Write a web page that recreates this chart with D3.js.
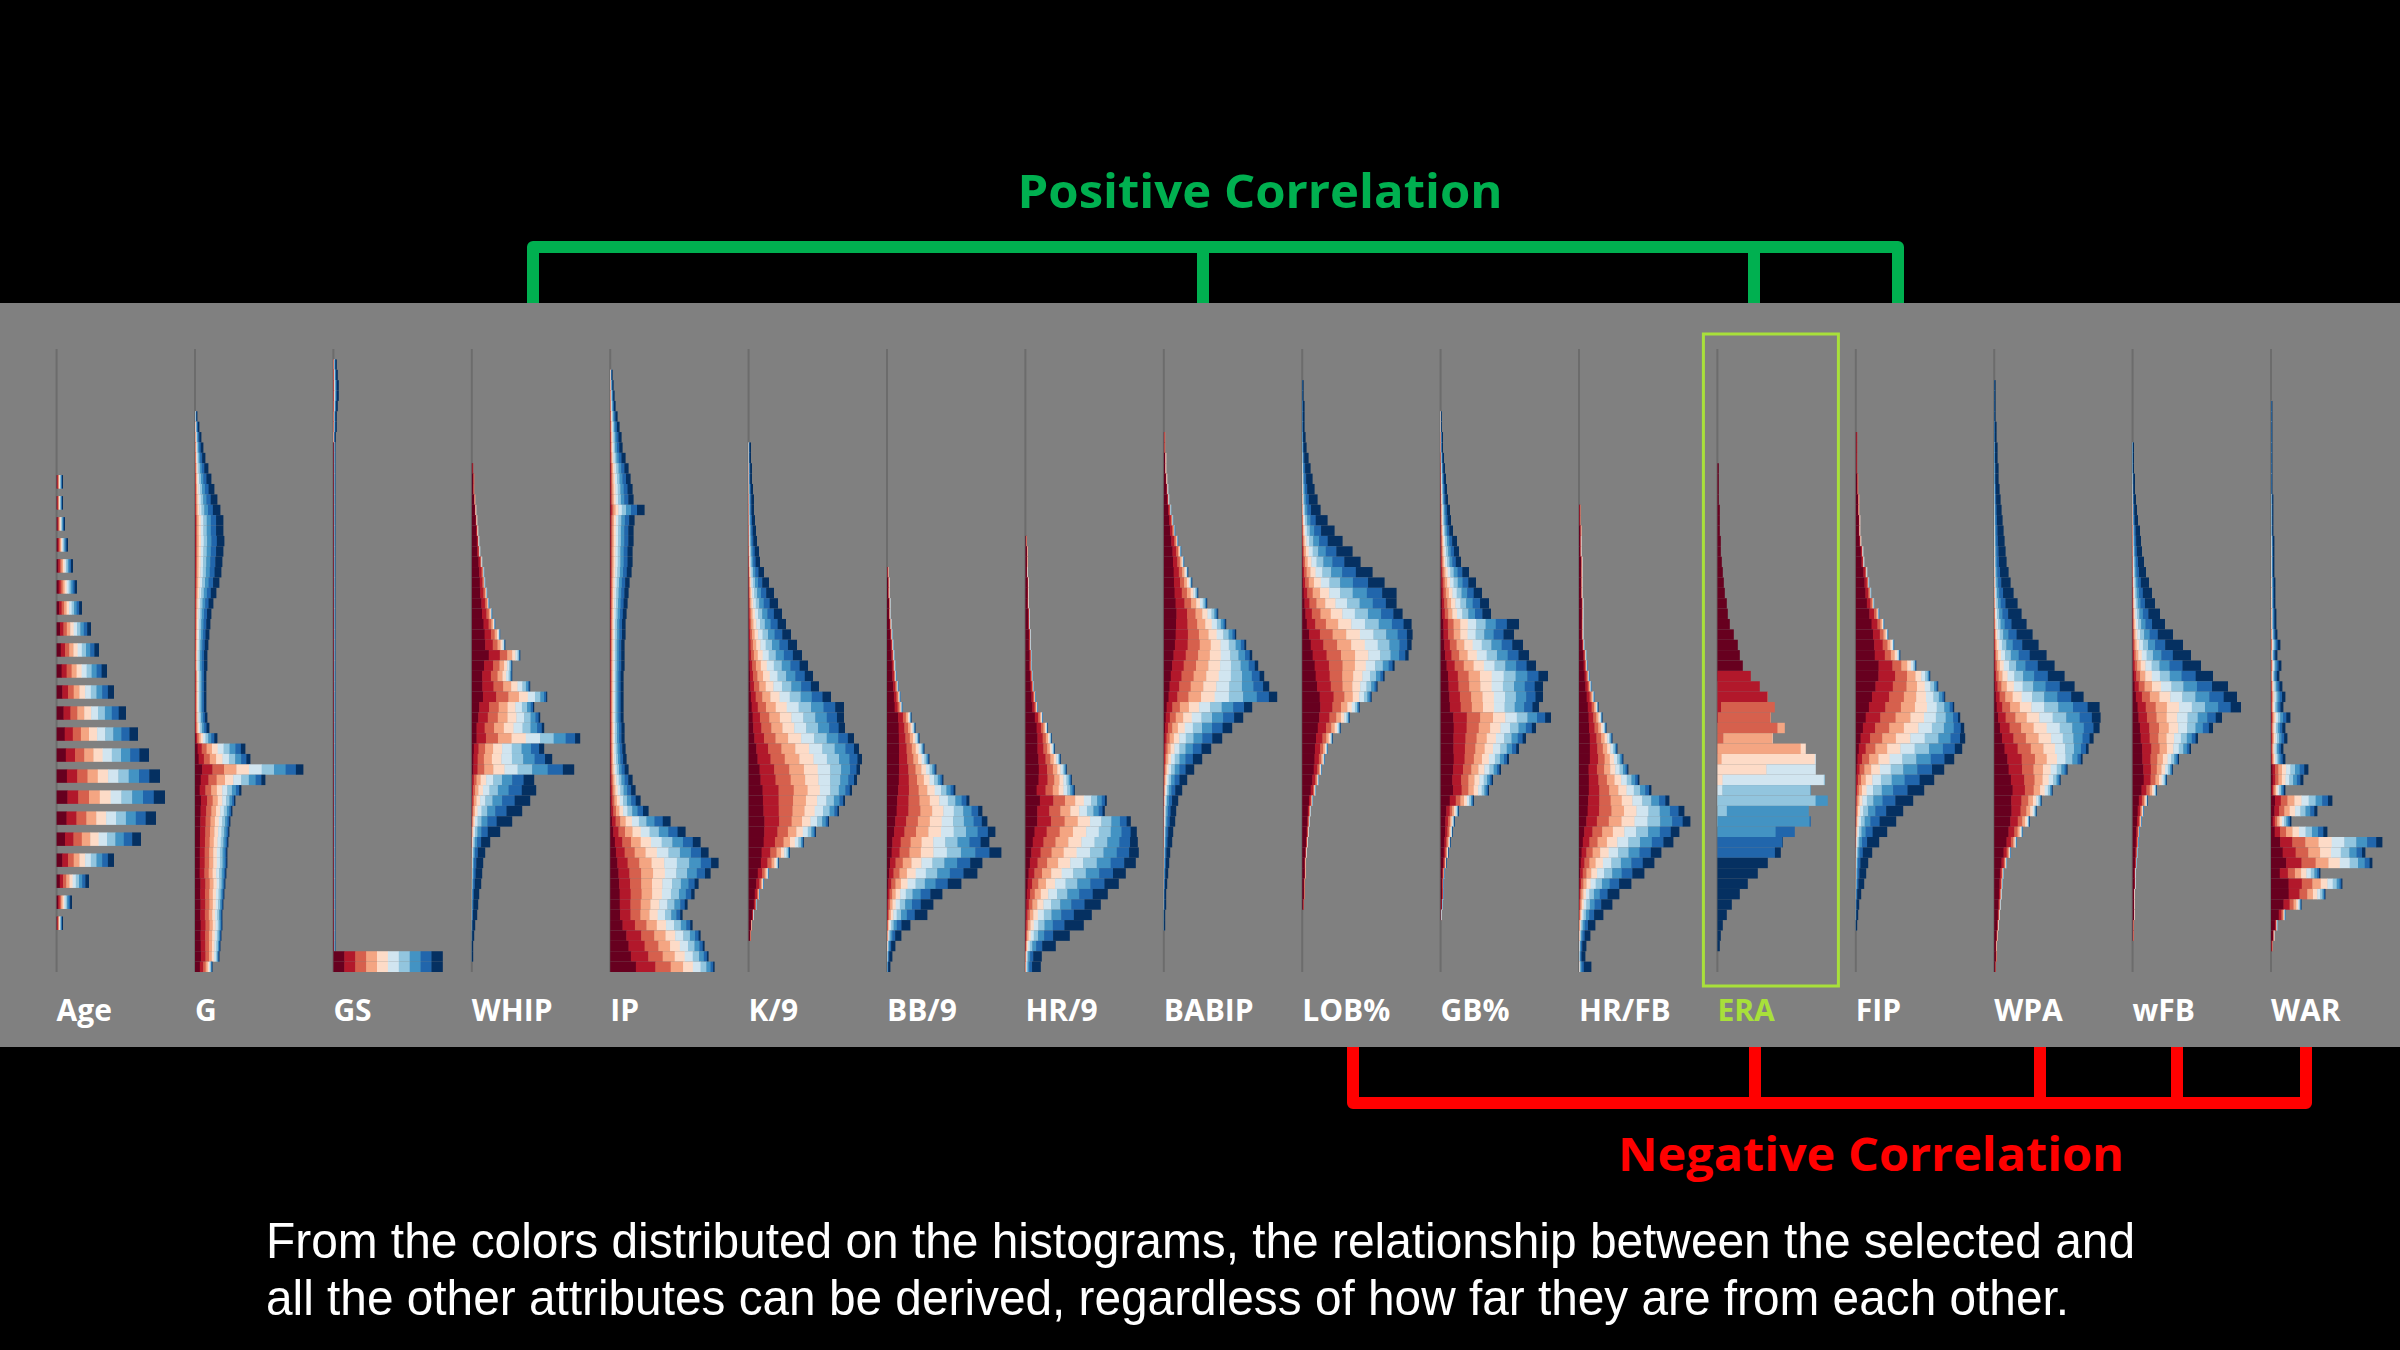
<!DOCTYPE html>
<html lang="en">
<head>
<meta charset="UTF-8">
<title>Attribute histograms coloured by ERA</title>
<script src="https://d3js.org/d3.v7.min.js"></script>
<style>
  html, body { margin: 0; padding: 0; background: #000; }
  svg { display: block; }
</style>
</head>
<body>
<svg width="2400" height="1350"></svg>
<script>
// attributes, left to right; ERA is the selected one
const attributes = ["Age", "G", "GS", "WHIP", "IP", "K/9", "BB/9", "HR/9", "BABIP",
                    "LOB%", "GB%", "HR/FB", "ERA", "FIP", "WPA", "wFB", "WAR"];
const selected = "ERA";

// first non-empty bin of each histogram (60 bins top to bottom, Age uses 30)
const firstBin = [6, 6, 1, 11, 2, 9, 21, 18, 8, 3, 6, 15, 11, 8, 3, 9, 5];

// how tightly each bin's ERA deciles cluster (latent normal sd, 1 = no relation)
const spread = [1, 0.85, 1, 0.75, 0.85, 0.8, 0.85, 0.85, 0.8, 0.8, 0.9, 0.85, 0.06, 0.75, 0.8, 0.85, 0.85];

// bin counts per attribute
const ageCounts = [6,6,8,11,16,20,25,34,42,50,57,69,81,92,103,108,99,84,57,32,15,6];
const gCounts = [2,4,6,8,10,13,16,19,22,25,28,28,29,28,27,26,24,21,18,16,15,14,13,12,12,11,11,11,11,12,
                 14,22,50,55,108,70,46,40,37,35,34,33,32,32,31,30,29,28,27,27,26,25,24,17];
const gsCounts = [3,4,5,5,4,3,3,2,
                  1.5,1.5,1.5,1.5,1.5,1.5,1.5,1.5,1.5,1.5,
                  1.5,1.5,1.5,1.5,1.5,1.5,1.5,1.5,1.5,1.5,
                  1.5,1.5,1.5,1.5,1.5,1.5,1.5,1.5,1.5,1.5,
                  1.5,1.5,1.5,1.5,1.5,1.5,1.5,1.5,1.5,1.5,
                  1.5,1.5,1.5,1.5,1.5,1.5,1.5,1.5,1.5,
                  109,109];
const whipCounts = [1,2,2,3,4,5,6,7,8,10,12,13,15,17,20,23,28,33,48,40,40,58,75,62,68,72,108,72,80,102,
                    62,64,58,50,40,28,18,13,11,10,9,7,6,5,3,2,1,1];
const ipCounts = [2,3,4,5,7,9,11,12,15,18,20,22,23,34,24,23,23,22,22,21,19,18,17,16,15,15,14,14,14,13,
                  13,13,13,13,14,14,15,16,18,22,25,30,38,60,75,90,98,108,100,88,84,77,72,82,90,94,98,104];
const k9Counts = [2,2,3,3,4,5,5,6,7,8,10,11,15,20,25,29,33,37,42,48,53,59,64,70,82,95,95,96,105,110,
                  113,111,108,103,96,90,80,67,55,41,30,20,15,11,8,5,3,2];
const bb9Counts = [1,2,2,3,3,4,5,6,7,8,9,11,13,15,24,28,32,37,42,49,56,68,82,95,100,108,102,114,95,90,
                   74,55,46,40,23,14,8,5,3];
const hr9Counts = [1,2,2,2,3,3,3,4,4,5,5,6,6,7,8,10,12,17,22,26,29,35,41,46,49,81,79,105,111,112,
                   113,110,100,93,82,75,66,58,44,30,16,15];
const babipCounts = [1,1,2,2,3,4,5,7,9,11,14,17,20,24,28,34,43,54,62,72,82,88,94,100,105,113,88,79,68,58,
                     47,38,30,23,18,14,12,11,9,8,6,5,4,3,2,2,1,1];
const lobCounts = [1,1,2,2,2,3,4,6,8,10,12,15,18,25,32,40,50,58,70,82,94,94,100,109,110,109,106,92,82,75,
                   69,57,47,38,30,25,22,19,16,13,10,8,7,6,5,4,3,3,2,2,1];
const gbCounts = [1,1,2,2,3,4,5,6,7,9,10,12,16,18,20,28,35,41,48,50,78,73,82,88,95,107,102,102,98,110,
                  95,85,78,68,60,52,48,33,18,14,12,10,8,6,4,3,3,2,1];
const hrfbCounts = [1,1,2,2,2,3,3,3,3,4,4,4,4,5,7,8,10,12,15,19,23,27,33,38,44,49,60,72,90,105,
                    111,100,94,82,75,65,52,40,33,24,16,11,7,6,12];
const eraCounts = [1,1,1,1,2,2,2,3,3,4,5,6,7,9,10,12,16,20,22,25,33,42,50,57,53,67,55,88,98,98,
                   107,93,110,91,93,77,65,63,50,40,30,22,14,9,5,3,2];
const fipCounts = [1,1,1,1,2,2,3,3,4,4,5,7,8,11,13,15,18,23,28,32,38,44,60,74,82,89,98,104,108,109,
                   106,98,88,78,68,57,47,40,31,23,16,12,10,8,5,3,2,1];
const wpaCounts = [1,1,1,1,2,2,3,3,4,4,5,6,7,8,9,10,11,12,14,16,19,23,27,32,38,44,52,60,70,80,
                   89,105,106,105,99,94,88,73,66,58,47,42,35,28,22,16,12,9,8,7,6,5,4,3,2,2,1];
const wfbCounts = [1,1,1,2,2,3,4,5,7,8,9,11,13,16,19,22,27,32,40,50,58,68,80,95,104,108,89,80,65,58,
                   46,40,34,24,15,11,9,7,6,5,4,3,3,2,2,2,1,1];
const warCounts = [1,1,1,1,1,1,1,1,1,2,2,2,2,3,3,3,3,4,4,4,5,5,6,9,6,10,8,11,14,12,
                   19,14,16,12,14,37,32,14,61,46,20,56,111,94,101,49,71,54,30,14,6,3,1];

// mean ERA position of each bin on a latent normal scale (negative = red end)
const ageMean = [0,0,0,0,0,0,0,0,0,0,0,0,0,0,0,0,0,0,0,0,0,0];
const gMean = [0.8,0.8,0.8,0.8,0.8,0.8,0.8,0.8,0.8,0.8,
               0.7,0.7,0.7,0.7,0.7,0.7,0.7,0.7,0.7,0.7,0.7,0.7,0.7,0.7,0.7,
               0.5,0.5,0.5,0.5,0.5,0.5,
               0.3,0.1,0,0,-0.1,-0.2,
               -0.4,-0.4,-0.4,-0.4,-0.4,-0.4,-0.4,-0.4,
               -0.5,-0.5,-0.55,-0.55,-0.6,-0.6,-0.65,-0.7,-0.8];
const gsMean = [0.8,0.8,0.8,0.8,0.8,0.8,0.8,0.8,
                -0.6,-0.6,-0.6,-0.6,-0.6,-0.6,-0.6,-0.6,-0.6,-0.6,
                -0.6,-0.6,-0.6,-0.6,-0.6,-0.6,-0.6,-0.6,-0.6,-0.6,
                -0.6,-0.6,-0.6,-0.6,-0.6,-0.6,-0.6,-0.6,-0.6,-0.6,
                -0.6,-0.6,-0.6,-0.6,-0.6,-0.6,-0.6,-0.6,-0.6,-0.6,
                -0.6,-0.6,-0.6,-0.6,-0.6,-0.6,-0.6,-0.6,-0.6,
                0,0];
const whipMean = [-2.0,-2.0,-1.9,-1.9,-1.8,-1.8,-1.7,-1.7,-1.6,-1.6,-1.5,-1.5,-1.4,-1.4,-1.3,-1.3,
                  -1.2,-1.1,-1.0,-0.9,-0.8,-0.6,-0.5,-0.4,-0.3,-0.15,0,0.15,0.25,0.35,
                  0.55,0.7,0.8,0.9,1.05,1.15,1.25,1.35,1.45,1.5,1.6,1.7,1.75,1.8,1.85,1.9,1.95,2.0];
const ipMean = [0.7,0.7,0.7,0.7,0.7,0.7,0.7,0.7,0.7,
                0.6,0.6,0.6,0.6,0.6,0.6,0.6,0.6,0.6,0.6,0.6,0.6,0.6,0.6,0.6,0.6,0.6,0.6,0.6,0.6,
                0.55,0.55,0.55,0.55,0.55,0.55,0.55,0.55,0.55,0.55,
                0.5,0.45,0.4,0.35,0.3,0.2,0.1,0.05,0,-0.1,
                -0.2,-0.25,-0.3,-0.35,-0.4,-0.5,-0.55,-0.6,-0.7];
const k9Mean = [1.3,1.3,1.25,1.25,1.2,1.2,1.15,1.15,1.1,1.1,1.05,1.0,
                0.95,0.9,0.85,0.8,0.7,0.65,0.6,0.55,0.5,0.4,0.35,0.3,0.25,0.2,
                0.1,0.05,0,-0.1,-0.15,-0.25,-0.3,-0.4,-0.45,-0.5,
                -0.6,-0.7,-0.8,-0.9,-1.1,-1.2,-1.3,-1.4,-1.6,-1.7,-1.85,-2.0];
const bb9Mean = [-1.7,-1.7,-1.65,-1.65,-1.6,-1.6,-1.55,-1.55,-1.5,-1.5,
                 -1.45,-1.4,-1.35,-1.3,-1.2,-1.1,-1.0,-0.9,-0.8,-0.7,
                 -0.6,-0.45,-0.3,-0.2,-0.1,0,0.1,0.2,0.3,0.4,0.5,0.6,0.75,0.85,1.0,1.1,1.25,1.4,1.5];
const hr9Mean = [-1.8,-1.8,-1.8,-1.75,-1.75,-1.75,-1.7,-1.7,-1.7,-1.7,-1.65,-1.65,-1.6,-1.6,-1.6,
                 -1.5,-1.45,-1.4,-1.3,-1.2,-1.1,-1.0,-0.9,-0.8,-0.65,-0.5,-0.4,-0.25,-0.1,
                 0,0.1,0.2,0.3,0.4,0.5,0.6,0.75,0.9,1.0,1.15,1.3,1.4];
const babipMean = [-1.7,-1.7,-1.65,-1.65,-1.6,-1.6,-1.55,-1.5,-1.45,-1.4,-1.35,-1.3,
                   -1.2,-1.1,-1.0,-0.9,-0.8,-0.7,-0.6,-0.5,-0.4,-0.3,-0.2,-0.1,0,0.1,
                   0.2,0.3,0.4,0.5,0.6,0.7,0.8,0.9,1.0,1.1,1.15,1.2,1.3,1.35,
                   1.4,1.45,1.5,1.55,1.6,1.65,1.7,1.75];
const lobMean = [1.8,1.8,1.75,1.75,1.7,1.7,1.65,1.6,1.55,1.5,1.45,1.4,
                 1.3,1.2,1.1,1.0,0.9,0.8,0.7,0.6,0.45,0.3,0.2,0.1,-0.05,-0.15,-0.25,
                 -0.4,-0.5,-0.6,-0.75,-0.9,-1.0,-1.1,-1.2,-1.3,-1.4,
                 -1.5,-1.55,-1.6,-1.65,-1.7,-1.75,-1.8,-1.85,-1.9,-1.9,-1.95,-1.95,-2.0,-2.0];
const gbMean = [1.0,1.0,0.95,0.95,0.9,0.9,0.9,0.85,0.85,0.8,0.8,0.75,0.75,0.7,
                0.65,0.6,0.55,0.5,0.45,0.4,0.35,0.3,0.25,0.2,0.1,0.05,0,-0.05,-0.1,-0.2,
                -0.3,-0.35,-0.4,-0.5,-0.55,-0.6,-0.7,-0.75,-0.85,-0.9,
                -1.0,-1.0,-1.05,-1.1,-1.1,-1.15,-1.2,-1.2,-1.25];
const hrfbMean = [-1.8,-1.8,-1.8,-1.75,-1.75,-1.75,-1.7,-1.7,-1.7,-1.65,-1.65,-1.6,-1.6,-1.55,-1.5,-1.45,
                  -1.4,-1.35,-1.3,-1.2,-1.1,-1.0,-0.9,-0.8,-0.7,-0.55,-0.45,-0.35,-0.2,-0.1,0,
                  0.1,0.2,0.3,0.4,0.5,0.65,0.8,0.9,1.0,1.15,1.25,1.35,1.45,1.5];
const eraMean = [-2,-2,-2,-2,-2,-2,-2,-2,-2,-2,-2,-2,-2,-2,-2,-2,-2,-2,-2,-2,
                 -1.1,-1.05,-1.0,-0.75,-0.7,-0.6,-0.45,-0.35,-0.15,0,0.1,0.35,0.45,0.6,0.7,0.8,1.1,1.2,
                 2,2,2,2,2,2,2,2,2];
const fipMean = [-2.0,-2.0,-1.95,-1.95,-1.9,-1.9,-1.85,-1.85,-1.8,-1.8,-1.75,-1.7,-1.7,-1.65,-1.6,-1.55,-1.5,-1.45,-1.4,-1.35,
                 -1.25,-1.15,-1.05,-0.9,-0.75,-0.6,-0.45,-0.3,-0.15,0,0.15,0.3,0.45,0.6,0.75,0.9,
                 1.0,1.1,1.2,1.3,1.4,1.5,1.55,1.6,1.7,1.75,1.8,1.9];
const wpaMean = [1.9,1.9,1.85,1.85,1.8,1.8,1.75,1.75,1.7,1.7,1.65,1.65,1.6,1.6,1.55,1.55,1.5,1.5,1.45,1.4,1.35,1.3,1.25,1.2,
                 1.1,1.0,0.9,0.8,0.7,0.55,0.4,0.3,0.15,0,-0.15,-0.3,-0.45,-0.6,-0.75,
                 -0.9,-1.0,-1.1,-1.2,-1.3,-1.4,-1.45,-1.5,-1.55,-1.6,-1.65,-1.7,-1.75,-1.8,-1.85,-1.9,-1.95,-2.0];
const wfbMean = [1.6,1.6,1.55,1.55,1.5,1.5,1.45,1.45,1.4,1.4,1.35,1.3,1.3,1.25,1.2,1.15,1.1,1.05,1.0,0.95,
                 0.85,0.75,0.6,0.45,0.3,0.15,0,-0.15,-0.3,-0.45,-0.6,-0.75,-0.9,-1.0,-1.1,
                 -1.2,-1.25,-1.3,-1.35,-1.4,-1.45,-1.5,-1.55,-1.6,-1.65,-1.7,-1.75,-1.8];
const warMean = [1.1,1.1,1.1,1.05,1.05,1.05,1.0,1.0,1.0,1.0,0.95,0.95,0.95,0.95,0.9,0.9,0.9,0.9,0.85,0.85,0.85,0.85,0.8,
                 0.75,0.8,0.7,0.75,0.65,0.6,0.6,0.55,0.55,0.5,0.5,0.45,
                 0.2,0.1,0.05,0,-0.05,-0.1,
                 0,-0.1,-0.3,-0.4,-0.5,-0.7,-0.9,-1.1,-1.4,-1.6,-1.7,-1.8];

const counts = [ageCounts, gCounts, gsCounts, whipCounts, ipCounts, k9Counts, bb9Counts, hr9Counts,
                babipCounts, lobCounts, gbCounts, hrfbCounts, eraCounts, fipCounts, wpaCounts, wfbCounts, warCounts];
const means = [ageMean, gMean, gsMean, whipMean, ipMean, k9Mean, bb9Mean, hr9Mean,
               babipMean, lobMean, gbMean, hrfbMean, eraMean, fipMean, wpaMean, wfbMean, warMean];

// ERA decile borders on the latent normal scale
const decileCuts = [-Infinity, -1.2816, -0.8416, -0.5244, -0.2533, 0, 0.2533, 0.5244, 0.8416, 1.2816, Infinity];
const colors = d3.schemeRdBu[10];

const captionLines = [
  "From the colors distributed on the histograms, the relationship between the selected and",
  "all the other attributes can be derived, regardless of how far they are from each other."
];

// normal cdf (Abramowitz & Stegun 7.1.26)
function phi(z) {
  if (z === Infinity) return 1;
  if (z === -Infinity) return 0;
  const t = 1 / (1 + 0.3275911 * Math.abs(z) / Math.SQRT2);
  const e = (((((1.061405429 * t - 1.453152027) * t) + 1.421413741) * t - 0.284496736) * t + 0.254829592) * t * Math.exp(-z * z / 2);
  return z >= 0 ? 0.5 * (2 - e) : 0.5 * e;
}

function decileShares(mu, sd) {
  const out = [];
  for (let k = 0; k < 10; k++) {
    out.push(phi((decileCuts[k + 1] - mu) / sd) - phi((decileCuts[k] - mu) / sd));
  }
  const s = d3.sum(out);
  return out.map(v => v / s);
}

const svg = d3.select("svg");

// brackets (drawn before the panel so the panel trims their ends)
const green = "#00b050", red = "#ff0000";
const bx = d3.scaleBand().domain(attributes).range([56.6, 56.6 + 17 * 138.4]);

const gb = svg.append("g").attr("fill", "none").attr("stroke-width", 12).attr("stroke-linejoin", "round");
gb.append("path").attr("stroke", green)
  .attr("d", "M533,310 V247 H1898 V310 M1203,247 V310 M1754,247 V310");
gb.append("path").attr("stroke", red)
  .attr("d", "M1353,1040 V1103 H2306 V1040 M1755,1103 V1040 M2040,1103 V1040 M2177,1103 V1040");

// gray panel
svg.append("rect").attr("x", 0).attr("y", 303).attr("width", 2400).attr("height", 744).attr("fill", "#808080");

// selection box around ERA
svg.append("rect")
  .attr("x", bx(selected) - 14).attr("y", 334).attr("width", 135).attr("height", 652)
  .attr("fill", "none").attr("stroke", "#a8e03a").attr("stroke-width", 3);

const yBin = d3.scaleBand().domain(d3.range(60)).range([349, 972]);
const yAge = d3.scaleBand().domain(d3.range(30)).range([349, 972]).paddingInner(0.36);
const len = d3.scaleLinear().domain([0, 120]).range([0, 120]);

attributes.forEach((name, i) => {
  const g = svg.append("g").attr("transform", `translate(${bx(name)},0)`);
  g.append("line").attr("x1", 0).attr("x2", 0).attr("y1", 349).attr("y2", 972)
    .attr("stroke", "#6c6c6c").attr("stroke-width", 2);

  const y = name === "Age" ? yAge : yBin;
  const segs = [];
  counts[i].forEach((c, j) => {
    const shares = decileShares(means[i][j], spread[i]);
    let acc = 0;
    shares.forEach((f, k) => {
      const w = c * f;
      if (w > 0.02) segs.push({ bin: firstBin[i] + j, x0: acc, w: w, k: k });
      acc += w;
    });
  });

  g.selectAll("rect.seg").data(segs).join("rect")
    .attr("class", "seg")
    .attr("x", d => len(d.x0))
    .attr("y", d => y(d.bin))
    .attr("width", d => len(d.w) + 0.4)
    .attr("height", y.bandwidth())
    .attr("fill", d => colors[d.k]);

  g.append("text")
    .attr("x", 0).attr("y", 1021)
    .attr("font-family", "'Open Sans', 'Noto Sans', sans-serif")
    .attr("font-weight", 700).attr("font-size", 30)
    .attr("fill", name === selected ? "#a8e03a" : "#ffffff")
    .text(name);
});

svg.append("text")
  .attr("x", 1260).attr("y", 208).attr("text-anchor", "middle")
  .attr("font-family", "'Open Sans', 'Noto Sans', sans-serif").attr("font-weight", 700).attr("font-size", 47)
  .attr("textLength", 485).attr("lengthAdjust", "spacingAndGlyphs")
  .attr("fill", green).text("Positive Correlation");

svg.append("text")
  .attr("x", 1871).attr("y", 1171).attr("text-anchor", "middle")
  .attr("font-family", "'Open Sans', 'Noto Sans', sans-serif").attr("font-weight", 700).attr("font-size", 46)
  .attr("textLength", 506).attr("lengthAdjust", "spacingAndGlyphs")
  .attr("fill", red).text("Negative Correlation");

const capWidths = [1869, 1803];
svg.selectAll("text.caption").data(captionLines).join("text")
  .attr("class", "caption")
  .attr("x", 266).attr("y", (d, i) => 1258 + i * 57)
  .attr("font-family", "'Liberation Sans', Arial, sans-serif").attr("font-size", 50)
  .attr("textLength", (d, i) => capWidths[i]).attr("lengthAdjust", "spacingAndGlyphs")
  .attr("fill", "#ffffff")
  .text(d => d);
</script>
</body>
</html>
